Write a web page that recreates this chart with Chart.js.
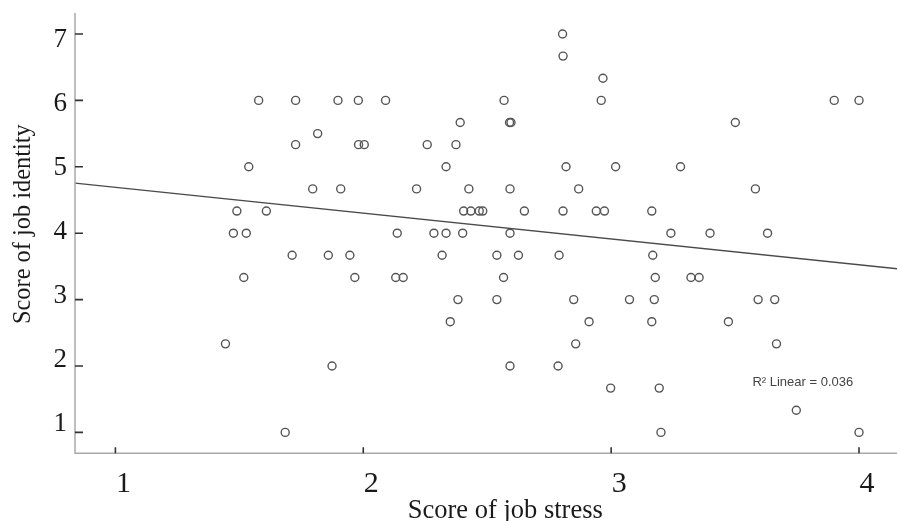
<!DOCTYPE html>
<html><head><meta charset="utf-8">
<script src="https://cdn.jsdelivr.net/npm/chart.js@4.4.1/dist/chart.umd.min.js"></script>
<style>
html,body{margin:0;padding:0;overflow:hidden;background:#fff;width:897px;height:521px;}
#wrap{position:absolute;left:0;top:-20px;width:941px;height:545px;}
</style></head><body>
<div id="wrap"><canvas id="c" width="941" height="545"></canvas></div>
<script>
const stressScores = [
  1.578,1.727,1.727,1.538,1.490,1.609,1.476,1.528,1.713,1.518,1.444,1.685,
  2.804,2.806,1.898,1.980,2.090,2.568,2.391,2.590,2.596,1.816,1.981,2.004,
  2.258,2.374,2.334,2.818,1.796,1.909,2.215,2.426,2.592,2.869,2.405,2.434,
  2.468,2.482,2.650,2.806,2.940,2.973,2.137,2.285,2.334,2.401,2.592,1.859,
  1.946,2.318,2.539,2.626,2.790,2.967,2.960,3.900,4.000,3.501,3.018,3.280,
  3.582,3.164,3.241,3.399,3.631,3.168,1.966,2.131,2.161,2.566,2.382,2.539,
  2.849,2.351,2.911,2.857,1.874,2.592,2.786,3.178,3.322,3.355,3.074,3.174,
  3.593,3.660,3.164,3.473,3.667,2.998,3.194,3.747,3.201,4.000
];
const identityScores = [
  6,6,5.333,5,4.333,4.333,4,4,3.667,3.333,2.333,1,
  7,6.667,6,6,6,6,5.667,5.667,5.667,5.5,5.333,5.333,
  5.333,5.333,5,5,4.667,4.667,4.667,4.667,4.667,4.667,4.333,4.333,
  4.333,4.333,4.333,4.333,4.333,4.333,4,4,4,4,4,3.667,
  3.667,3.667,3.667,3.667,3.667,6.333,6,6,6,5.667,5,5,
  4.667,4.333,4,4,4,3.667,3.333,3.333,3.333,3.333,3,3,
  3,2.667,2.667,2.333,2,2,2,3.333,3.333,3.333,3,3,
  3,3,2.667,2.667,2.333,1.667,1.667,1.333,1,1
];
const xTickValues = [1, 2, 3, 4];
const yTickValues = [1, 2, 3, 4, 5, 6, 7];
const fitLineX = [0.837, 4.309];
const fitLineY = [4.755, 3.404];
const fitNote = 'R\u00B2 Linear = 0.036';
const xTitle = 'Score of job stress';
const yTitle = 'Score of job identity';

const axesPlugin = {
  id: 'axesPlugin',
  afterDraw(chart) {
    const {ctx, chartArea: a, scales: {x, y}} = chart;
    ctx.save();
    ctx.strokeStyle = '#a9a9a9';
    ctx.lineWidth = 1.5;
    const yTop = y.getPixelForValue(7.316);
    ctx.beginPath();
    ctx.moveTo(a.left, yTop);
    ctx.lineTo(a.left, a.bottom);
    ctx.lineTo(a.right, a.bottom);
    ctx.stroke();
    ctx.strokeStyle = '#333';
    ctx.lineWidth = 1.6;
    ctx.beginPath();
    yTickValues.forEach(v => {
      const py = y.getPixelForValue(v);
      ctx.moveTo(a.left, py); ctx.lineTo(a.left + 8, py);
    });
    xTickValues.forEach(v => {
      const px = x.getPixelForValue(v);
      ctx.moveTo(px, a.bottom); ctx.lineTo(px, a.bottom - 6);
    });
    ctx.stroke();
    ctx.font = '13px "Liberation Sans", Arial, sans-serif';
    ctx.fillStyle = '#444';
    ctx.textBaseline = 'middle';
    ctx.textAlign = 'left';
    ctx.fillText(fitNote, x.getPixelForValue(3.57), y.getPixelForValue(1.759));
    ctx.restore();
  }
};

const serif = '"Liberation Serif", "Times New Roman", serif';
new Chart(document.getElementById('c'), {
  type: 'scatter',
  data: {
    datasets: [
      {
        type: 'scatter',
        data: stressScores.map((v, i) => ({x: v, y: identityScores[i]})),
        pointRadius: 4,
        pointBorderWidth: 1.4,
        borderColor: '#555',
        backgroundColor: 'rgba(0,0,0,0)',
        xAxisID: 'x', yAxisID: 'y'
      },
      {
        type: 'line',
        data: fitLineX.map((v, i) => ({x: v, y: fitLineY[i]})),
        borderColor: '#4a4a4a',
        borderWidth: 1.3,
        pointRadius: 0,
        fill: false,
        xAxisID: 'x', yAxisID: 'y'
      }
    ]
  },
  options: {
    responsive: false,
    animation: false,
    devicePixelRatio: 1,
    layout: {padding: {top: 15, left: 0, right: 0, bottom: 0}},
    plugins: {legend: {display: false}, tooltip: {enabled: false}},
    scales: {
      x: {
        type: 'linear', position: 'bottom', min: 0.837, max: 4.309,
        afterBuildTicks: s => { s.ticks = xTickValues.map(v => ({value: v})); },
        afterFit: s => { s.height = 71.7; },
        grid: {display: false, drawTicks: false},
        border: {display: false},
        ticks: {font: {family: serif, size: 30, lineHeight: 1.2}, color: '#1a1a1a', padding: 13, labelOffset: 8, autoSkip: false, maxRotation: 0},
        title: {display: true, text: xTitle, font: {family: serif, size: 26.5, lineHeight: 1.2}, color: '#1a1a1a', padding: {top: 0, bottom: -1.5}}
      },
      y: {
        type: 'linear', position: 'left', display: false, min: 0.685, max: 7.587
      },
      yLab: {
        type: 'linear', position: 'left', min: 0.534, max: 7.704,
        afterBuildTicks: s => { s.ticks = yTickValues.map(v => ({value: v})); },
        afterFit: s => { s.width = 75; s.paddingTop = 0; s.paddingBottom = 0; },
        grid: {display: false, drawTicks: false},
        border: {display: false},
        ticks: {font: {family: serif, size: 27, lineHeight: 0.4}, color: '#1a1a1a', padding: 8, autoSkip: false},
        title: {display: true, text: yTitle, font: {family: serif, size: 24.4, lineHeight: 1.2}, color: '#1a1a1a', padding: {top: 8.6, bottom: 0}}
      }
    }
  },
  plugins: [axesPlugin]
});
</script>
</body></html>
